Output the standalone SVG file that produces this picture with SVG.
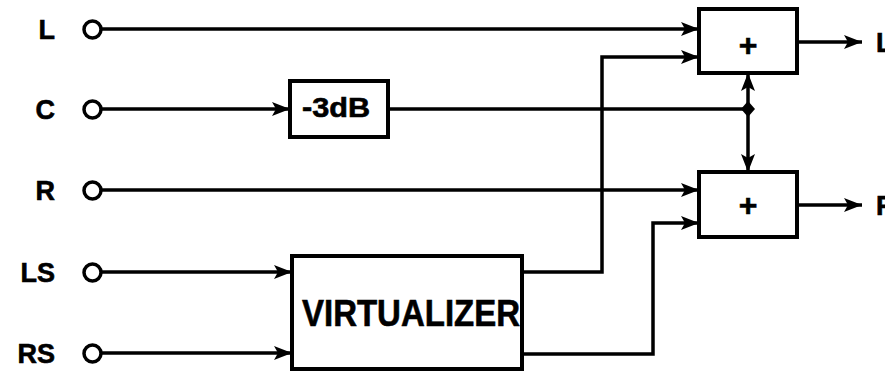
<svg xmlns="http://www.w3.org/2000/svg" width="885" height="371" viewBox="0 0 885 371">
<style>
.ln{fill:none;stroke:#000;stroke-width:3.5;stroke-linejoin:miter}
.box{fill:#fff;stroke:#000;stroke-width:4}
.port{fill:#fff;stroke:#000;stroke-width:3.5}
.lbl{font-family:"Liberation Sans",Arial,sans-serif;font-weight:bold;font-size:27px;fill:#000;stroke:#000;stroke-width:0.6}
</style>
<defs>
<marker id="ar" markerUnits="userSpaceOnUse" markerWidth="20" markerHeight="16" refX="18" refY="8" orient="auto">
<path d="M0,1 L18,8 L0,15 L4,8 z" fill="#000"/>
</marker>
</defs>
<rect width="885" height="371" fill="#fff"/>
<g id="connectors">
<path class="ln" d="M102,29 H699" marker-end="url(#ar)"/>
<path class="ln" d="M102,109 H290" marker-end="url(#ar)"/>
<path class="ln" d="M388,109 H748"/>
<path class="ln" d="M748,109 V73" marker-end="url(#ar)"/>
<path class="ln" d="M748,109 V172" marker-end="url(#ar)"/>
<path class="ln" d="M102,190 H699" marker-end="url(#ar)"/>
<path class="ln" d="M102,272 H292" marker-end="url(#ar)"/>
<path class="ln" d="M102,353 H292" marker-end="url(#ar)"/>
<path class="ln" d="M522,272 H602 V57 H699" marker-end="url(#ar)"/>
<path class="ln" d="M522,354 H653 V223 H699" marker-end="url(#ar)"/>
<path class="ln" d="M797,42 H862" marker-end="url(#ar)"/>
<path class="ln" d="M797,205 H862" marker-end="url(#ar)"/>
<path d="M748,101 L755,109 L748,117 L741,109 z" fill="#000"/>
</g>
<g id="in-L"><text class="lbl" x="55" y="39" text-anchor="end">L</text><circle class="port" cx="92.5" cy="29.5" r="8.5"/></g>
<g id="in-C"><text class="lbl" x="55" y="119" text-anchor="end">C</text><circle class="port" cx="92.5" cy="109.5" r="8.5"/></g>
<g id="in-R"><text class="lbl" x="55" y="200" text-anchor="end">R</text><circle class="port" cx="92.5" cy="190.5" r="8.5"/></g>
<g id="in-LS"><text class="lbl" x="55" y="282" text-anchor="end">LS</text><circle class="port" cx="92.5" cy="272.5" r="8.5"/></g>
<g id="in-RS"><text class="lbl" x="55" y="363" text-anchor="end">RS</text><circle class="port" cx="92.5" cy="353.5" r="8.5"/></g>
<g id="atten"><rect class="box" x="290" y="81" width="98" height="56"/><text class="lbl" x="336" y="117" text-anchor="middle" textLength="68" lengthAdjust="spacingAndGlyphs">-3dB</text></g>
<g id="virtualizer"><rect class="box" x="292" y="256" width="230" height="113"/><text class="lbl" x="411" y="326" text-anchor="middle" style="font-size:36px" textLength="218" lengthAdjust="spacingAndGlyphs">VIRTUALIZER</text></g>
<g id="sumL"><rect class="box" x="699" y="9" width="98" height="64"/><text class="lbl" x="748" y="56" text-anchor="middle" style="font-size:32px">+</text></g>
<g id="sumR"><rect class="box" x="699" y="172" width="98" height="65"/><text class="lbl" x="748" y="216" text-anchor="middle" style="font-size:32px">+</text></g>
<g id="out-L"><text class="lbl" x="876" y="52">L</text></g>
<g id="out-R"><text class="lbl" x="876" y="215">R</text></g>
</svg>
